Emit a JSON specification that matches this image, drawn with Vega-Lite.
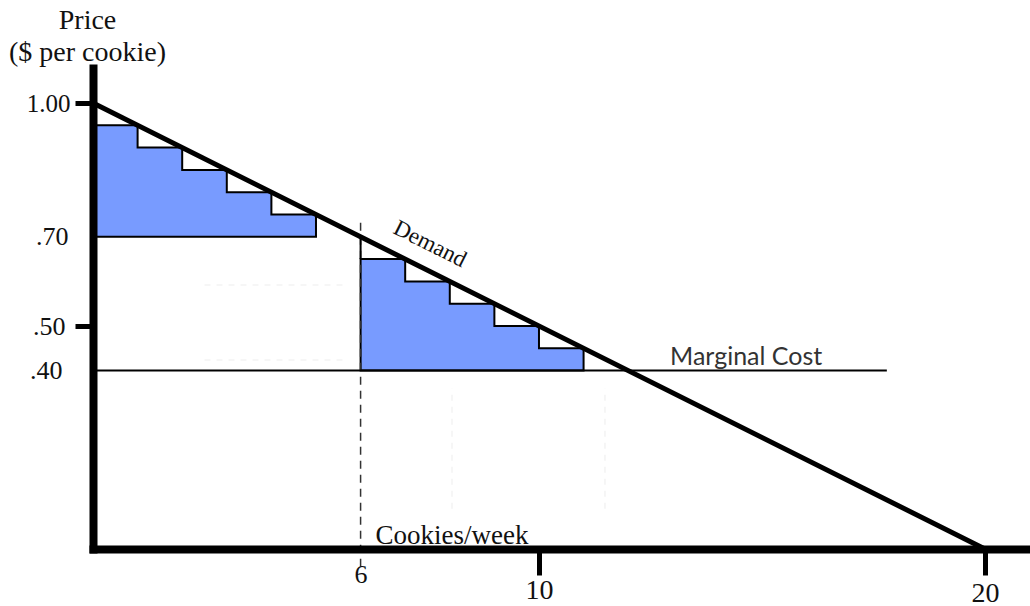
{
  "$schema": "https://vega.github.io/schema/vega-lite/v6.json",
  "width": 937,
  "height": 481,
  "autosize": {"type": "none"},
  "padding": {"left": 93, "top": 68, "right": 0, "bottom": 57},
  "background": "white",
  "config": {"view": {"stroke": null}},
  "datasets": {
    "steps": [
      {"group": "A", "q": 0, "p": 0.95, "base": 0.70},
      {"group": "A", "q": 1, "p": 0.90, "base": 0.70},
      {"group": "A", "q": 2, "p": 0.85, "base": 0.70},
      {"group": "A", "q": 3, "p": 0.80, "base": 0.70},
      {"group": "A", "q": 4, "p": 0.75, "base": 0.70},
      {"group": "A", "q": 5, "p": 0.75, "base": 0.70},
      {"group": "B", "q": 6, "p": 0.65, "base": 0.40},
      {"group": "B", "q": 7, "p": 0.60, "base": 0.40},
      {"group": "B", "q": 8, "p": 0.55, "base": 0.40},
      {"group": "B", "q": 9, "p": 0.50, "base": 0.40},
      {"group": "B", "q": 10, "p": 0.45, "base": 0.40},
      {"group": "B", "q": 11, "p": 0.45, "base": 0.40}
    ],
    "segs": [
      {"kind": "demand", "q": 0, "p": 1.0, "q2": 20, "p2": 0},
      {"kind": "mc", "q": 0, "p": 0.4, "q2": 17.8, "p2": 0.4},
      {"kind": "guide", "q": 6, "p": -0.04, "q2": 6, "p2": 0.745},
      {"kind": "riser", "q": 6, "p": 0.65, "q2": 6, "p2": 0.70},
      {"kind": "faint", "q": 2.5, "p": 0.592, "q2": 5.7, "p2": 0.592},
      {"kind": "faint", "q": 2.5, "p": 0.424, "q2": 5.7, "p2": 0.424},
      {"kind": "faint", "q": 8.05, "p": 0.09, "q2": 8.05, "p2": 0.36},
      {"kind": "faint", "q": 11.48, "p": 0.09, "q2": 11.48, "p2": 0.36}
    ],
    "notes": [
      {"label": "Demand", "q": 7.556, "p": 0.684},
      {"label": "Marginal Cost", "q": 12.94, "p": 0.4126}
    ]
  },
  "encoding": {
    "x": {
      "field": "q",
      "type": "quantitative",
      "scale": {"domain": [0, 21.01], "nice": false, "zero": false},
      "axis": {
        "values": [6, 10, 20],
        "format": "d",
        "grid": false,
        "zindex": 1,
        "domainColor": "black",
        "domainWidth": 8,
        "domainCap": "square",
        "tickColor": "black",
        "tickWidth": 5,
        "tickSize": 26,
        "tickOpacity": {"condition": {"test": "datum.value == 6", "value": 0}, "value": 1},
        "labelFont": "Liberation Serif",
        "labelFontSize": {"condition": {"test": "datum.value == 6", "value": 26}, "value": 28},
        "labelColor": "#111111",
        "labelPadding": {"condition": [{"test": "datum.value == 6", "value": -14}, {"test": "datum.value == 10", "value": 1}], "value": 4},
        "labelBaseline": "top",
        "labelAlign": "center",
        "labelFlush": false,
        "labelOverlap": false,
        "labelBound": false,
        "title": "Cookies/week",
        "titleX": 282,
        "titleY": -6,
        "titleAlign": "left",
        "titleBaseline": "alphabetic",
        "titleFont": "Liberation Serif",
        "titleFontSize": 27,
        "titleFontWeight": "normal",
        "titleColor": "#111111"
      }
    },
    "y": {
      "field": "p",
      "type": "quantitative",
      "scale": {"domain": [0, 1.0785], "nice": false, "zero": false},
      "axis": {
        "values": [1, 0.7, 0.5, 0.4],
        "labelExpr": "datum.value == 1 ? '1.00' : substring(format(datum.value, '.2f'), 1)",
        "grid": false,
        "zindex": 1,
        "domainColor": "black",
        "domainWidth": 8,
        "domainCap": "square",
        "tickColor": "black",
        "tickWidth": 5,
        "tickSize": 18,
        "tickOpacity": {"condition": {"test": "datum.value == 1 || datum.value == 0.5", "value": 1}, "value": 0},
        "labelFont": "Liberation Serif",
        "labelFontSize": {"condition": {"test": "datum.value == 1", "value": 25}, "value": 26},
        "labelColor": "#111111",
        "labelPadding": {"condition": [{"test": "datum.value == 1", "value": 5}, {"test": "datum.value == 0.7", "value": 7}, {"test": "datum.value == 0.5", "value": 10}], "value": 13},
        "labelBaseline": "middle",
        "labelAlign": "right",
        "labelFlush": false,
        "labelOverlap": false,
        "labelBound": false,
        "title": ["Price", "($ per cookie)"],
        "titleAngle": 0,
        "titleX": -6,
        "titleY": -40,
        "titleAlign": "center",
        "titleBaseline": "alphabetic",
        "titleFont": "Liberation Serif",
        "titleFontSize": 28,
        "titleLineHeight": 32,
        "titleFontWeight": "normal",
        "titleColor": "#111111"
      }
    }
  },
  "layer": [
    {
      "data": {"name": "segs"},
      "transform": [{"filter": "datum.kind == 'faint'"}],
      "mark": {"type": "rule", "color": "#f3f3f3", "strokeWidth": 1.5, "strokeDash": [6, 6]},
      "encoding": {"x2": {"field": "q2"}, "y2": {"field": "p2"}}
    },
    {
      "data": {"name": "steps"},
      "mark": {"type": "area", "interpolate": "step-after", "fill": "#789bff", "fillOpacity": 1, "stroke": "black", "strokeWidth": 2, "strokeJoin": "miter"},
      "encoding": {"y2": {"field": "base"}, "detail": {"field": "group"}}
    },
    {
      "data": {"name": "segs"},
      "transform": [{"filter": "datum.kind == 'guide'"}],
      "mark": {"type": "rule", "color": "#333333", "strokeWidth": 1.5, "strokeDash": [8, 6]},
      "encoding": {"x2": {"field": "q2"}, "y2": {"field": "p2"}}
    },
    {
      "data": {"name": "segs"},
      "transform": [{"filter": "datum.kind == 'riser' || datum.kind == 'mc'"}],
      "mark": {"type": "rule", "color": "black", "strokeWidth": 2},
      "encoding": {"x2": {"field": "q2"}, "y2": {"field": "p2"}}
    },
    {
      "data": {"name": "segs"},
      "transform": [{"filter": "datum.kind == 'demand'"}],
      "mark": {"type": "rule", "color": "black", "strokeWidth": 5, "strokeCap": "butt"},
      "encoding": {"x2": {"field": "q2"}, "y2": {"field": "p2"}}
    },
    {
      "data": {"name": "notes"},
      "transform": [{"filter": "datum.label == 'Demand'"}],
      "mark": {"type": "text", "font": "Liberation Serif", "fontSize": 23, "angle": 26.5, "align": "center", "baseline": "middle", "color": "#111111"},
      "encoding": {"text": {"field": "label"}}
    },
    {
      "data": {"name": "notes"},
      "transform": [{"filter": "datum.label == 'Marginal Cost'"}],
      "mark": {"type": "text", "font": "Lato", "fontSize": 25, "align": "left", "baseline": "alphabetic", "color": "#333333"},
      "encoding": {"text": {"field": "label"}}
    }
  ]
}
